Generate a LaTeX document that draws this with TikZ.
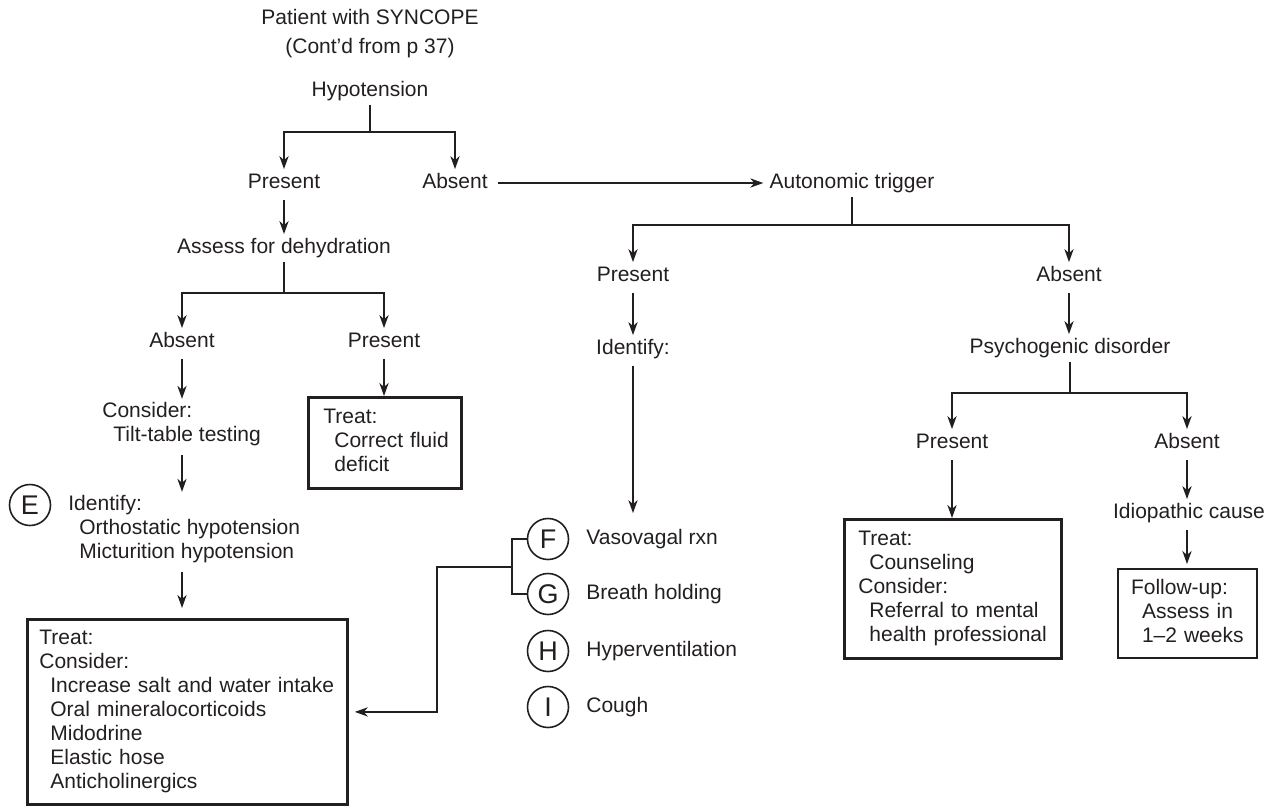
\documentclass[tikz,border=0pt]{standalone}
\usepackage{fontspec}
\setmainfont{Liberation Sans}
\usetikzlibrary{arrows.meta}
\definecolor{ink}{HTML}{231F20}
\begin{document}
\begin{tikzpicture}[x=0.5pt,y=-0.5pt,
  every node/.style={font=\fontsize{10.5}{12}\selectfont, text=ink, inner sep=0pt},
  lbl/.style={inner ysep=1.5pt, text height=8pt, text depth=2.5pt},
  multi/.style={anchor=west, align=left, inner ysep=1.5pt},
  box/.style={draw=ink, line width=1.4pt, anchor=north west, align=left},
  thinbox/.style={box, line width=1pt},
  ln/.style={draw=ink, line width=0.9pt},
  arr/.style={ln, -{Stealth[length=6.5pt, width=4.6pt, inset=2pt]}},
  letter/.style={circle, draw=ink, line width=0.8pt, minimum size=20.5pt,
    font=\fontsize{13.5}{13.5}\selectfont},
  item/.style={anchor=west, lbl}]
\useasboundingbox (0,0) rectangle (1280,805);
\newcommand{\ind}{\hspace*{5.5pt}}
\newcommand{\lines}[1]{\begin{tabular}{@{}l@{}}#1\end{tabular}}
\renewcommand{\arraystretch}{1}

% ---- top of the chart
\node[lbl] (title1) at (370,19) {Patient with SYNCOPE};
\node[lbl] (title2) at (370,48) {(Cont’d from p 37)};
\node[lbl] (hypo) at (370,91) {Hypotension};
\node[lbl] (pres1) at (284,183) {Present};
\node[lbl] (abs1) at (455,183) {Absent};
\node[lbl] (auto) at (852,183) {Autonomic trigger};

\coordinate (j1) at (370,132);
\draw[ln] (hypo) -- (j1);
\draw[arr] (j1) -| (pres1);
\draw[arr] (j1) -| (abs1);
\draw[arr, shorten <=5pt, shorten >=3pt] (abs1) -- (auto);

% ---- hypotension present: dehydration branch
\node[lbl] (assess) at (284,248) {Assess for dehydration};
\draw[arr, shorten <=1.5pt] (pres1) -- (pres1 |- assess.north);

\node[lbl] (abs2) at (182,342) {Absent};
\node[lbl] (pres2) at (384,342) {Present};
\coordinate (j2) at (284,293);
\draw[ln] (assess) -- (j2);
\draw[arr] (j2) -| (abs2);
\draw[arr] (j2) -| (pres2);

\node[box, minimum width=76.5pt, minimum height=45.5pt, text width=61.5pt,
  inner xsep=7.5pt] (treatfluid) at (307,396)
  {\lines{Treat:\\\ind Correct fluid\\\ind deficit}};
\draw[arr, shorten <=1.5pt] (pres2) -- (pres2 |- treatfluid.north);

\node[multi] (consider) at (102,424) {Consider:\\\ind Tilt-table testing};
\draw[arr, shorten <=1.5pt] (abs2) -- (abs2 |- consider.north);

\node[letter] (circE) at (30,505) {E};
\node[multi] (identE) at (68,529)
  {Identify:\\\ind Orthostatic hypotension\\\ind Micturition hypotension};
\draw[arr, shorten <=3pt] (abs2 |- consider.south) -- (abs2 |- identE.north);

\node[box, minimum width=160pt, minimum height=92.5pt, text width=148pt,
  inner xsep=6pt] (treatL) at (26,618)
  {\lines{Treat:\\Consider:\\\ind Increase salt and water intake\\\ind Oral mineralocorticoids\\
   \ind Midodrine\\\ind Elastic hose\\\ind Anticholinergics}};
\draw[arr, shorten <=3pt, shorten >=5pt] (abs2 |- identE.south) -- (abs2 |- treatL.north);

% ---- autonomic trigger present
\coordinate (j3) at (852,225);
\node[lbl] (pres3) at (633,276) {Present};
\node[lbl] (abs3) at (1069,276) {Absent};
\draw[ln] (auto) -- (j3);
\draw[arr] (j3) -| (pres3);
\draw[arr] (j3) -| (abs3);

\node[lbl] (ident) at (633,349) {Identify:};
\draw[arr, shorten <=1.5pt] (pres3) -- (ident);

\node[letter] (circF) at (548,539) {F};
\node[letter] (circG) at (548,594) {G};
\node[letter] (circH) at (548,651) {H};
\node[letter] (circI) at (548,707) {I};
\node[item] (vaso) at (586,539) {Vasovagal rxn};
\node[item] (breath) at (586,594) {Breath holding};
\node[item] (hyper) at (586,651) {Hyperventilation};
\node[item] (cough) at (586,707) {Cough};
\draw[arr, shorten <=1.5pt, shorten >=6pt] (ident) -- (ident |- vaso.north);

\coordinate (bj) at (512,567);
\coordinate (bk) at (437,567);
\draw[ln] (circF.west) -| (bj) |- (circG.west);
\draw[arr, shorten >=3pt] (bj) -- (bk) |- (treatL.east);

% ---- autonomic trigger absent
\node[lbl] (psych) at (1070,348) {Psychogenic disorder};
\draw[arr, shorten <=1.5pt] (abs3) -- (abs3 |- psych.north);

\coordinate (j4) at (1070,393);
\node[lbl] (pres4) at (952,443) {Present};
\node[lbl] (abs4) at (1187,443) {Absent};
\draw[ln] (psych) -- (j4);
\draw[arr] (j4) -| (pres4);
\draw[arr] (j4) -| (abs4);

\node[box, minimum width=108.5pt, minimum height=69.5pt, text width=94.5pt,
  inner xsep=7pt] (treatP) at (843,518)
  {\lines{Treat:\\\ind Counseling\\Consider:\\\ind Referral to mental\\\ind health professional}};
\draw[arr, shorten <=1.5pt] (pres4) -- (pres4 |- treatP.north);

\node[lbl] (idio) at (1189,513) {Idiopathic cause};
\draw[arr, shorten <=1.5pt] (abs4) -- (abs4 |- idio.north);

\node[thinbox, minimum width=69.5pt, minimum height=44.5pt, text width=56.5pt,
  inner xsep=6.5pt] (follow) at (1117,568)
  {\lines{Follow-up:\\\ind Assess in\\\ind 1–2 weeks}};
\draw[arr, shorten <=1.5pt, shorten >=2pt] (abs4 |- idio.south) -- (abs4 |- follow.north);
\end{tikzpicture}
\end{document}
